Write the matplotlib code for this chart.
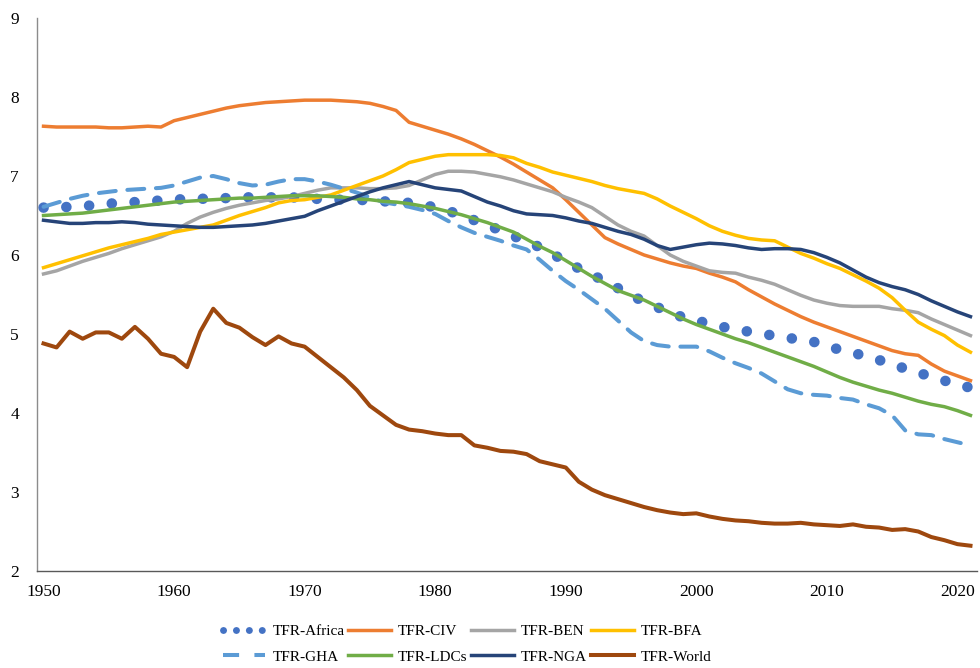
import matplotlib
matplotlib.use("Agg")
import matplotlib.pyplot as plt
from matplotlib.lines import Line2D

years = list(range(1950, 2022))

tfr_africa = [6.60, 6.60, 6.61, 6.62, 6.63, 6.65, 6.66, 6.67, 6.68, 6.69,
              6.70, 6.71, 6.71, 6.72, 6.72, 6.73, 6.73, 6.73, 6.73, 6.73,
              6.72, 6.71, 6.70, 6.70, 6.70, 6.69, 6.68, 6.67, 6.66, 6.64,
              6.60, 6.56, 6.50, 6.44, 6.38, 6.31, 6.24, 6.17, 6.10, 6.01,
              5.92, 5.83, 5.75, 5.67, 5.58, 5.49, 5.41, 5.34, 5.27, 5.21,
              5.17, 5.13, 5.09, 5.06, 5.03, 5.00, 4.98, 4.95, 4.93, 4.90,
              4.85, 4.80, 4.76, 4.72, 4.67, 4.62, 4.56, 4.51, 4.46, 4.41,
              4.36, 4.32]

tfr_civ = [7.63, 7.62, 7.62, 7.62, 7.62, 7.61, 7.61, 7.62, 7.63, 7.62,
           7.70, 7.74, 7.78, 7.82, 7.86, 7.89, 7.91, 7.93, 7.94, 7.95,
           7.96, 7.96, 7.96, 7.95, 7.94, 7.92, 7.88, 7.83, 7.68, 7.63,
           7.58, 7.53, 7.47, 7.40, 7.32, 7.24, 7.15, 7.05, 6.95, 6.85,
           6.70, 6.54, 6.38, 6.22, 6.14, 6.07, 6.00, 5.95, 5.90, 5.86,
           5.83, 5.77, 5.72, 5.66, 5.56, 5.47, 5.38, 5.30, 5.22, 5.15,
           5.09, 5.03, 4.97, 4.91, 4.85, 4.79, 4.75, 4.73, 4.62, 4.53,
           4.47, 4.41]

tfr_ben = [5.76, 5.80, 5.86, 5.92, 5.97, 6.02, 6.08, 6.13, 6.18, 6.23,
           6.30, 6.40, 6.48, 6.54, 6.59, 6.63, 6.66, 6.69, 6.71, 6.74,
           6.78, 6.82, 6.85, 6.85, 6.85, 6.84, 6.84, 6.85, 6.88, 6.95,
           7.02, 7.06, 7.06, 7.05, 7.02, 6.99, 6.95, 6.90, 6.85, 6.80,
           6.73, 6.67, 6.60, 6.49, 6.38, 6.30, 6.24, 6.12, 6.00, 5.92,
           5.86, 5.80, 5.78, 5.77, 5.72, 5.68, 5.63, 5.56, 5.49, 5.43,
           5.39, 5.36, 5.35, 5.35, 5.35, 5.32, 5.30, 5.27, 5.19, 5.12,
           5.05, 4.98]

tfr_bfa = [5.84, 5.89, 5.94, 5.99, 6.04, 6.09, 6.13, 6.17, 6.21, 6.26,
           6.29, 6.32, 6.35, 6.38, 6.44, 6.50, 6.55, 6.60, 6.66, 6.69,
           6.70, 6.73, 6.76, 6.82, 6.88, 6.94, 7.00, 7.08, 7.17, 7.21,
           7.25, 7.27, 7.27, 7.27, 7.27, 7.26, 7.23, 7.16, 7.11, 7.05,
           7.01, 6.97, 6.93, 6.88, 6.84, 6.81, 6.78, 6.71, 6.62, 6.54,
           6.46, 6.37, 6.30, 6.25, 6.21, 6.19, 6.18, 6.10, 6.02, 5.96,
           5.89, 5.83, 5.75, 5.67, 5.58, 5.46, 5.30, 5.15, 5.06, 4.98,
           4.86, 4.77]

tfr_gha = [6.61, 6.66, 6.71, 6.75, 6.78, 6.80, 6.82, 6.83, 6.84, 6.85,
           6.88, 6.93, 6.98, 7.00, 6.96, 6.91, 6.88, 6.89, 6.93, 6.96,
           6.96, 6.93, 6.89, 6.84, 6.79, 6.73, 6.67, 6.64, 6.61, 6.57,
           6.52, 6.43, 6.35, 6.28, 6.23, 6.18, 6.12, 6.07, 5.94, 5.80,
           5.67, 5.56, 5.44, 5.32, 5.17, 5.02, 4.91, 4.86, 4.84, 4.84,
           4.84, 4.78, 4.70, 4.63, 4.57, 4.50, 4.40, 4.30, 4.25, 4.23,
           4.22, 4.19, 4.17, 4.11, 4.06, 3.97, 3.78, 3.73, 3.72, 3.67,
           3.63, 3.59]

tfr_ldcs = [6.50, 6.51, 6.52, 6.53, 6.55, 6.57, 6.59, 6.61, 6.63, 6.65,
            6.67, 6.68, 6.69, 6.70, 6.71, 6.72, 6.72, 6.73, 6.74, 6.75,
            6.75, 6.75, 6.74, 6.73, 6.71, 6.70, 6.68, 6.67, 6.65, 6.62,
            6.59, 6.55, 6.51, 6.46, 6.41, 6.35, 6.29, 6.20, 6.11, 6.03,
            5.93, 5.83, 5.73, 5.64, 5.55, 5.49, 5.43, 5.35, 5.27, 5.19,
            5.12, 5.06, 5.00, 4.94, 4.89, 4.83, 4.77, 4.71, 4.65, 4.59,
            4.52, 4.45, 4.39, 4.34, 4.29, 4.25, 4.20, 4.15, 4.11, 4.08,
            4.03, 3.97]

tfr_nga = [6.44, 6.42, 6.40, 6.40, 6.41, 6.41, 6.42, 6.41, 6.39, 6.38,
           6.37, 6.36, 6.35, 6.35, 6.36, 6.37, 6.38, 6.40, 6.43, 6.46,
           6.49, 6.56, 6.62, 6.68, 6.74, 6.80, 6.85, 6.89, 6.93, 6.89,
           6.85, 6.83, 6.81, 6.74, 6.67, 6.62, 6.56, 6.52, 6.51, 6.50,
           6.47, 6.43, 6.40, 6.35, 6.30, 6.26, 6.20, 6.12, 6.07, 6.10,
           6.13, 6.15, 6.14, 6.12, 6.09, 6.07, 6.08, 6.08, 6.07, 6.03,
           5.97, 5.90, 5.81, 5.72, 5.65, 5.60, 5.56, 5.50, 5.42, 5.35,
           5.28, 5.22]

tfr_world = [4.88, 4.83, 5.03, 4.94, 5.02, 5.02, 4.94, 5.09, 4.94, 4.75,
             4.71, 4.58, 5.03, 5.32, 5.14, 5.08, 4.96, 4.86, 4.97, 4.88,
             4.84, 4.71, 4.58, 4.45, 4.29, 4.09, 3.97, 3.85, 3.79, 3.77,
             3.74, 3.72, 3.72, 3.59, 3.56, 3.52, 3.51, 3.48, 3.39, 3.35,
             3.31, 3.13, 3.03, 2.96, 2.91, 2.86, 2.81, 2.77, 2.74, 2.72,
             2.73, 2.69, 2.66, 2.64, 2.63, 2.61, 2.60, 2.60, 2.61, 2.59,
             2.58, 2.57, 2.59, 2.56, 2.55, 2.52, 2.53, 2.50, 2.43, 2.39,
             2.34, 2.32]

series_names = ["TFR-Africa", "TFR-CIV", "TFR-BEN", "TFR-BFA",
                "TFR-GHA", "TFR-LDCs", "TFR-NGA", "TFR-World"]
series_values = [tfr_africa, tfr_civ, tfr_ben, tfr_bfa,
                 tfr_gha, tfr_ldcs, tfr_nga, tfr_world]
x_tick_years = [1950, 1960, 1970, 1980, 1990, 2000, 2010, 2020]
y_ticks = [2, 3, 4, 5, 6, 7, 8, 9]

colors = {
    "TFR-Africa": "#4472C4",
    "TFR-CIV": "#ED7D31",
    "TFR-BEN": "#A5A5A5",
    "TFR-BFA": "#FFC000",
    "TFR-GHA": "#5B9BD5",
    "TFR-LDCs": "#70AD47",
    "TFR-NGA": "#264478",
    "TFR-World": "#9E480E",
}

plt.rcParams['font.family'] = ['Liberation Serif', 'DejaVu Serif']

fig = plt.figure(figsize=(9.8, 6.68), dpi=100)
ax = fig.add_axes([37 / 980, (668 - 571) / 668, (977 - 37) / 980, (571 - 18) / 668])

handles = {}
for name, vals in zip(series_names, series_values):
    c = colors[name]
    if name == "TFR-Africa":
        ln, = ax.plot(years, vals, color=c, lw=7.6, linestyle=(0, (0.01, 2.15)),
                      dash_capstyle='round', solid_capstyle='round')
        h = Line2D([], [], color=c, lw=5.0, linestyle=(0, (0.01, 1.85)),
                   dash_capstyle='round')
    elif name == "TFR-GHA":
        ln, = ax.plot(years, vals, color=c, lw=2.9, linestyle=(0, (4.2, 2.9)),
                      dash_capstyle='round')
        h = Line2D([], [], color=c, lw=2.9, linestyle=(0, (4.0, 3.8)),
                   dash_capstyle='butt')
    elif name == "TFR-World":
        ln, = ax.plot(years, vals, color=c, lw=2.9, solid_joinstyle='round')
        h = ln
    else:
        ln, = ax.plot(years, vals, color=c, lw=2.5, solid_joinstyle='round')
        h = ln
    handles[name] = h

ax.set_xlim(1949.5, 2021.5)
ax.set_ylim(2, 9)
ax.set_xticks(x_tick_years)
ax.set_xticklabels([str(y) for y in x_tick_years])
ax.set_yticks(y_ticks)
ax.set_yticklabels([str(v) for v in y_ticks])
ax.tick_params(axis='both', length=0, labelsize=12.5, colors='#000000')
ax.tick_params(axis='y', pad=13)
ax.tick_params(axis='x', pad=9)

for s in ['top', 'right']:
    ax.spines[s].set_visible(False)
ax.spines['left'].set_color('#8c8c8c')
ax.spines['left'].set_linewidth(1.0)
ax.spines['bottom'].set_color('#595959')
ax.spines['bottom'].set_linewidth(1.0)

order = ["TFR-Africa", "TFR-GHA", "TFR-CIV", "TFR-LDCs",
         "TFR-BEN", "TFR-NGA", "TFR-BFA", "TFR-World"]
leg = fig.legend([handles[n] for n in order], order, ncol=4,
                 loc='center', bbox_to_anchor=(467 / 980, 1 - 644 / 668),
                 frameon=False, fontsize=11, handlelength=2.8,
                 handletextpad=0.45, columnspacing=0.25, labelspacing=0.8,
                 borderpad=0.2)

fig.savefig("out.png", dpi=100)
